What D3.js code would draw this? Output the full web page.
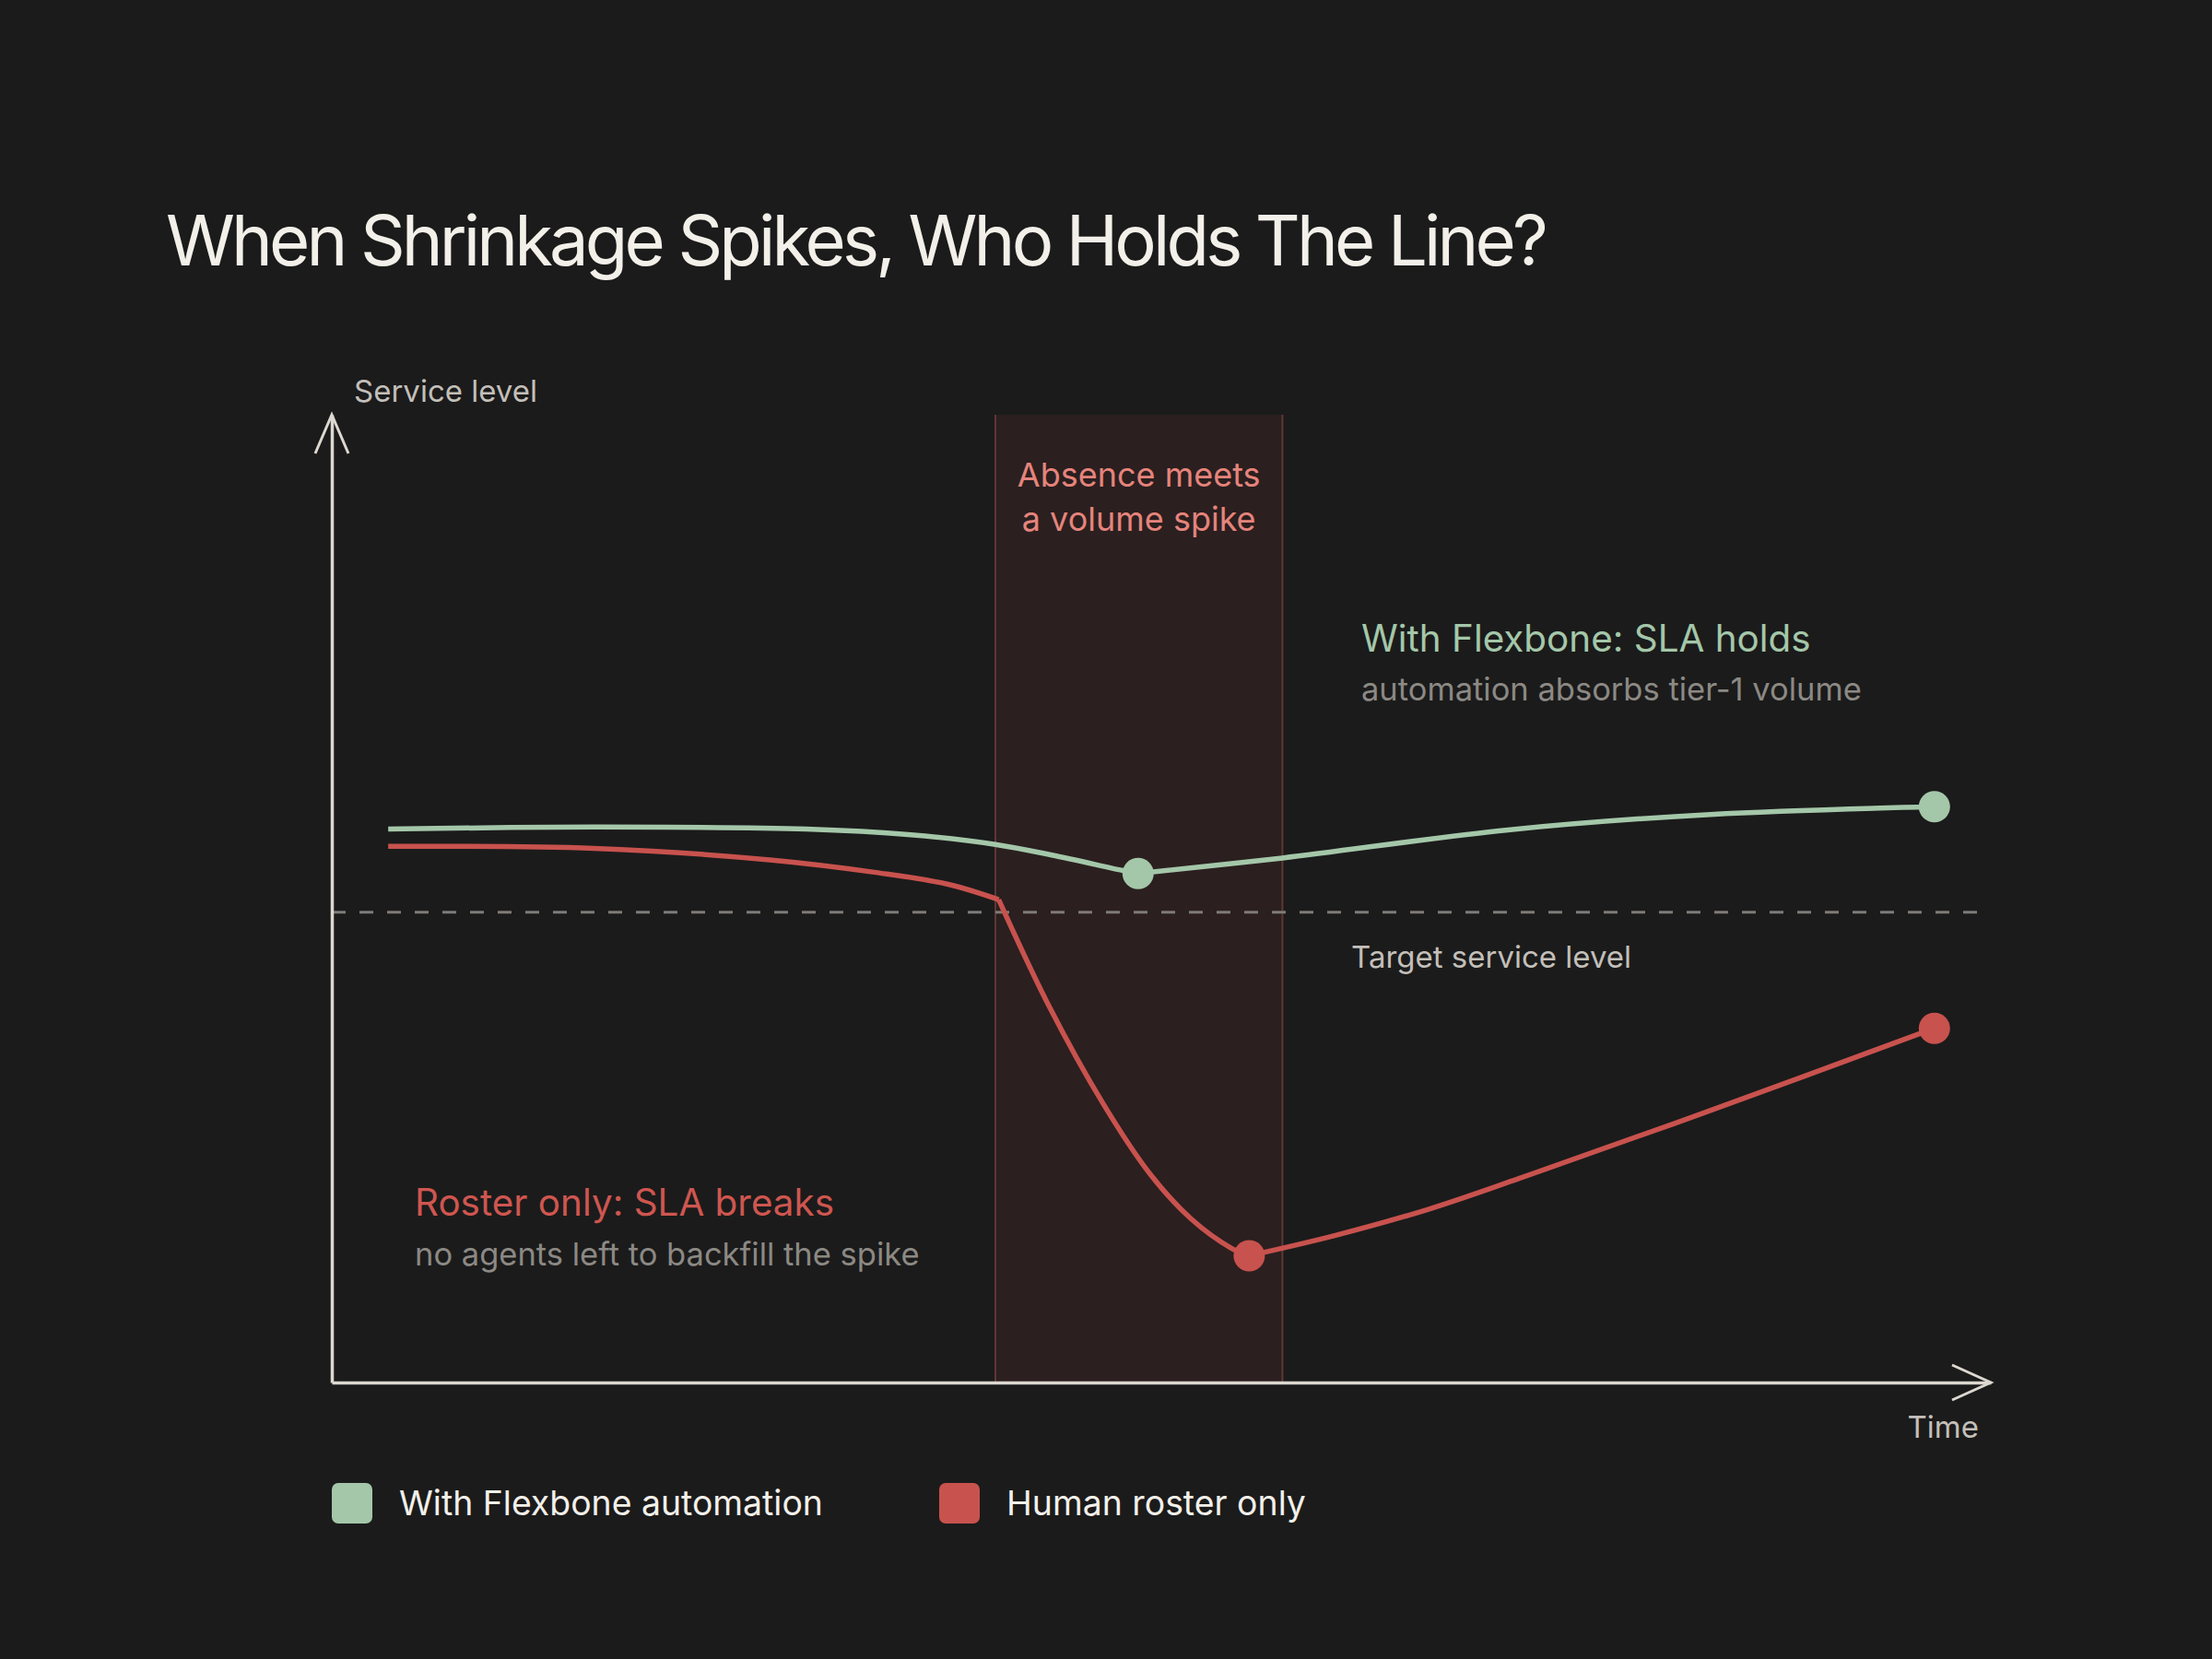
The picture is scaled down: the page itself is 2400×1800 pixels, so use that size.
<!DOCTYPE html>
<html>
<head>
<meta charset="utf-8">
<script src="https://cdn.jsdelivr.net/npm/d3@7"></script>
<style>
  html, body { margin: 0; padding: 0; background: #1b1b1b; }
  svg { display: block; font-family: Inter, "Noto Sans", sans-serif; }
</style>
</head>
<body>
<div id="chart"></div>
<script>
// service level over time
const flexTime   = [3.4, 15.8, 28.6, 34.9, 40.0, 43.4, 47.7, 48.6, 57.3, 70.9, 83.1, 96.6];
const flexLevel  = [57.2, 57.4, 57.2, 56.6, 55.6, 54.5, 52.9, 52.6, 54.2, 57.1, 58.7, 59.5];
const flexKinks  = [7];
const flexDots   = [7, 11];

const rosterTime  = [3.4, 15.8, 26.4, 32.8, 37.1, 40.2, 43.2, 46.5, 49.3, 51.8, 54.2, 55.3, 60.5, 66.1, 71.6, 82.6, 96.6];
const rosterLevel = [55.4, 55.2, 54.0, 52.7, 51.5, 49.9, 39.0, 28.8, 21.6, 16.9, 13.9, 13.1, 15.2, 17.9, 21.1, 27.8, 36.6];
const rosterKinks = [5, 11];
const rosterDots  = [11, 16];

const targetLevel = 48.6;
const targetSpan  = [0, 99.2];
const spikeWindow = [40.0, 57.3];

const seriesNames  = ["With Flexbone automation", "Human roster only"];
const seriesColors = ["#a4c7a9", "#c8524e"];

const width = 2400, height = 1800;
const svg = d3.select("#chart").append("svg")
  .attr("width", width)
  .attr("height", height)
  .attr("viewBox", `0 0 ${width} ${height}`);

svg.append("rect").attr("width", width).attr("height", height).attr("fill", "#1b1b1b");

const x = d3.scaleLinear().domain([0, 100]).range([360, 2160]);
const y = d3.scaleLinear().domain([0, 100]).range([1500, 450]);

// title
svg.append("text")
  .attr("x", 180).attr("y", 288)
  .attr("fill", "#f3f0ea")
  .attr("font-size", 76)
  .attr("letter-spacing", -3.9)
  .text("When Shrinkage Spikes, Who Holds The Line?");

// spike window band
svg.append("rect")
  .attr("x", x(spikeWindow[0]))
  .attr("y", y(100))
  .attr("width", x(spikeWindow[1]) - x(spikeWindow[0]))
  .attr("height", y(0) - y(100))
  .attr("fill", "#2b1f1f");
svg.selectAll(".band-edge")
  .data(spikeWindow)
  .enter()
  .append("line")
  .attr("class", "band-edge")
  .attr("x1", d => x(d)).attr("x2", d => x(d))
  .attr("y1", y(100)).attr("y2", y(0))
  .attr("stroke", "#5e3736")
  .attr("stroke-width", 2);

svg.append("text")
  .attr("x", x((spikeWindow[0] + spikeWindow[1]) / 2))
  .attr("text-anchor", "middle")
  .attr("fill", "#e5847c")
  .attr("font-size", 36)
  .selectAll("tspan")
  .data(["Absence meets", "a volume spike"])
  .enter()
  .append("tspan")
  .attr("x", x((spikeWindow[0] + spikeWindow[1]) / 2))
  .attr("y", (d, i) => 528 + i * 48)
  .text(d => d);

// target line
svg.append("line")
  .attr("x1", x(targetSpan[0])).attr("x2", x(targetSpan[1]))
  .attr("y1", y(targetLevel)).attr("y2", y(targetLevel))
  .attr("stroke", "#7e7b77")
  .attr("stroke-width", 3)
  .attr("stroke-dasharray", "15 15");

svg.append("text")
  .attr("x", 1466).attr("y", 1050)
  .attr("fill", "#c3bfb9")
  .attr("font-size", 33)
  .text("Target service level");

// axes (domain only, no ticks)
const axisColor = "#dcd8d0";
const gX = svg.append("g")
  .attr("transform", `translate(0, ${y(0)})`)
  .call(d3.axisBottom(x).tickValues([]).tickSizeOuter(0));
const gY = svg.append("g")
  .attr("transform", `translate(${x(0)}, 0)`)
  .call(d3.axisLeft(y).tickValues([]).tickSizeOuter(0));
svg.selectAll(".domain").attr("stroke", axisColor).attr("stroke-width", 3.5);

// arrowheads
svg.append("path")
  .attr("d", `M${x(100) - 42},${y(0) - 19} L${x(100)},${y(0)} L${x(100) - 42},${y(0) + 19}`)
  .attr("fill", "none").attr("stroke", axisColor).attr("stroke-width", 3);
svg.append("path")
  .attr("d", `M${x(0) - 18},${y(100) + 42} L${x(0)},${y(100)} L${x(0) + 18},${y(100) + 42}`)
  .attr("fill", "none").attr("stroke", axisColor).attr("stroke-width", 3);

svg.append("text")
  .attr("x", 384).attr("y", 436)
  .attr("fill", "#c3bfb9").attr("font-size", 33)
  .text("Service level");
svg.append("text")
  .attr("x", 2147).attr("y", 1560)
  .attr("text-anchor", "end")
  .attr("fill", "#c3bfb9").attr("font-size", 33)
  .text("Time");

// series lines, split at kinks so the corners stay sharp
const line = d3.line()
  .x(d => x(d[0]))
  .y(d => y(d[1]))
  .curve(d3.curveCatmullRom.alpha(0.5));

function segments(times, levels, kinks) {
  const cuts = [0, ...kinks, times.length - 1];
  const segs = [];
  for (let i = 0; i < cuts.length - 1; i++) {
    segs.push(d3.range(cuts[i], cuts[i + 1] + 1).map(j => [times[j], levels[j]]));
  }
  return segs;
}

const series = [
  { times: flexTime, levels: flexLevel, kinks: flexKinks, dots: flexDots, color: seriesColors[0] },
  { times: rosterTime, levels: rosterLevel, kinks: rosterKinks, dots: rosterDots, color: seriesColors[1] }
];

series.forEach(s => {
  svg.selectAll(null)
    .data(segments(s.times, s.levels, s.kinks))
    .enter()
    .append("path")
    .attr("d", line)
    .attr("fill", "none")
    .attr("stroke", s.color)
    .attr("stroke-width", 5.5)
    .attr("stroke-linejoin", "round")
    .attr("stroke-linecap", "butt");

  svg.selectAll(null)
    .data(s.dots)
    .enter()
    .append("circle")
    .attr("cx", i => x(s.times[i]))
    .attr("cy", i => y(s.levels[i]))
    .attr("r", 17)
    .attr("fill", s.color);
});

// annotations
svg.append("text")
  .attr("x", 1477).attr("y", 707)
  .attr("fill", "#a4c7a9").attr("font-size", 40.4)
  .text("With Flexbone: SLA holds");
svg.append("text")
  .attr("x", 1477).attr("y", 760)
  .attr("fill", "#8c8984").attr("font-size", 34.5)
  .text("automation absorbs tier-1 volume");

svg.append("text")
  .attr("x", 450).attr("y", 1319)
  .attr("fill", "#cf5650").attr("font-size", 40.4)
  .text("Roster only: SLA breaks");
svg.append("text")
  .attr("x", 450).attr("y", 1373)
  .attr("fill", "#8c8984").attr("font-size", 34.5)
  .text("no agents left to backfill the spike");

// legend
const legendX = [360, 1019];
const legend = svg.selectAll(".legend")
  .data(seriesNames)
  .enter()
  .append("g")
  .attr("class", "legend")
  .attr("transform", (d, i) => `translate(${legendX[i]}, 1609)`);
legend.append("rect")
  .attr("width", 44).attr("height", 44).attr("rx", 7)
  .attr("fill", (d, i) => seriesColors[i]);
legend.append("text")
  .attr("x", 73).attr("y", 35)
  .attr("fill", "#f3f0ea").attr("font-size", 37.4)
  .text(d => d);
</script>
</body>
</html>
